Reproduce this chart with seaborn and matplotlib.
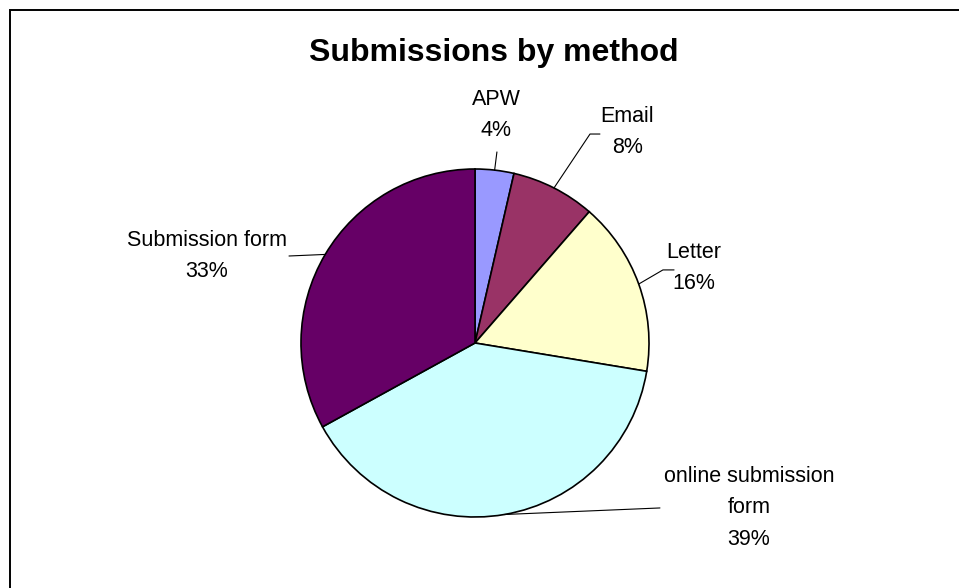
import numpy as np
import matplotlib
matplotlib.use("Agg")
import matplotlib.pyplot as plt
import seaborn as sns
from matplotlib.patches import Rectangle

methods = ['APW', 'Email', 'Letter', 'online submission\nform', 'Submission form']
shares = [3.6, 7.8, 16.2, 39.4, 33.0]
colors = ['#9999FF', '#993366', '#FFFFCC', '#CCFFFF', '#660066']

# label placement (data units, pie radius = 1)
text_xy = [(0.121, 1.31), (0.874, 1.213), (1.257, 0.431), (1.575, -0.948), (-1.54, 0.5)]
# leader line points from text side towards the wedge
leader = [
    [(0.126, 1.098)],
    [(0.718, 1.201), (0.661, 1.201)],
    [(1.144, 0.420), (1.080, 0.420)],
    [(1.063, -0.948)],
    [(-1.069, 0.50)],
]

sns.set_theme(style="white")
plt.rcParams['font.family'] = ['Liberation Sans', 'DejaVu Sans']
plt.rcParams['text.color'] = 'black'

W, H = 959, 588
fig = plt.figure(figsize=(W / 100, H / 100), dpi=100)
cx, cy, r = 475, 343, 174
ax = fig.add_axes([(cx - r) / W, (H - cy - r) / H, 2 * r / W, 2 * r / H])

wedges, _ = ax.pie(shares, colors=colors, startangle=90, counterclock=False,
                   radius=1, wedgeprops=dict(edgecolor='black', linewidth=1.2))
ax.set_xlim(-1, 1)
ax.set_ylim(-1, 1)
ax.set_aspect('equal')
ax.axis('off')

total = sum(shares)
for w, name, val, (tx, ty), pts in zip(wedges, methods, shares, text_xy, leader):
    mid = np.deg2rad((w.theta1 + w.theta2) / 2)
    edge = (np.cos(mid), np.sin(mid))
    line = pts + [edge]
    ax.plot([p[0] for p in line], [p[1] for p in line], color='black', lw=0.8,
            clip_on=False)
    ax.text(tx, ty, f"{name}\n{val / total * 100:.0f}%", ha='center', va='center',
            fontsize=15.5, linespacing=1.65, color='black', clip_on=False)

fig.text(494 / W, 1 - 53 / H, 'Submissions by method', ha='center', va='center',
         fontsize=23, fontweight='bold', color='black')

fig.patches.append(Rectangle((10 / W, -0.1), 1.2, 1 - 10 / H + 0.1,
                             transform=fig.transFigure, fill=False,
                             edgecolor='black', lw=1.4))

fig.savefig('out.png', dpi=100, facecolor='white')
